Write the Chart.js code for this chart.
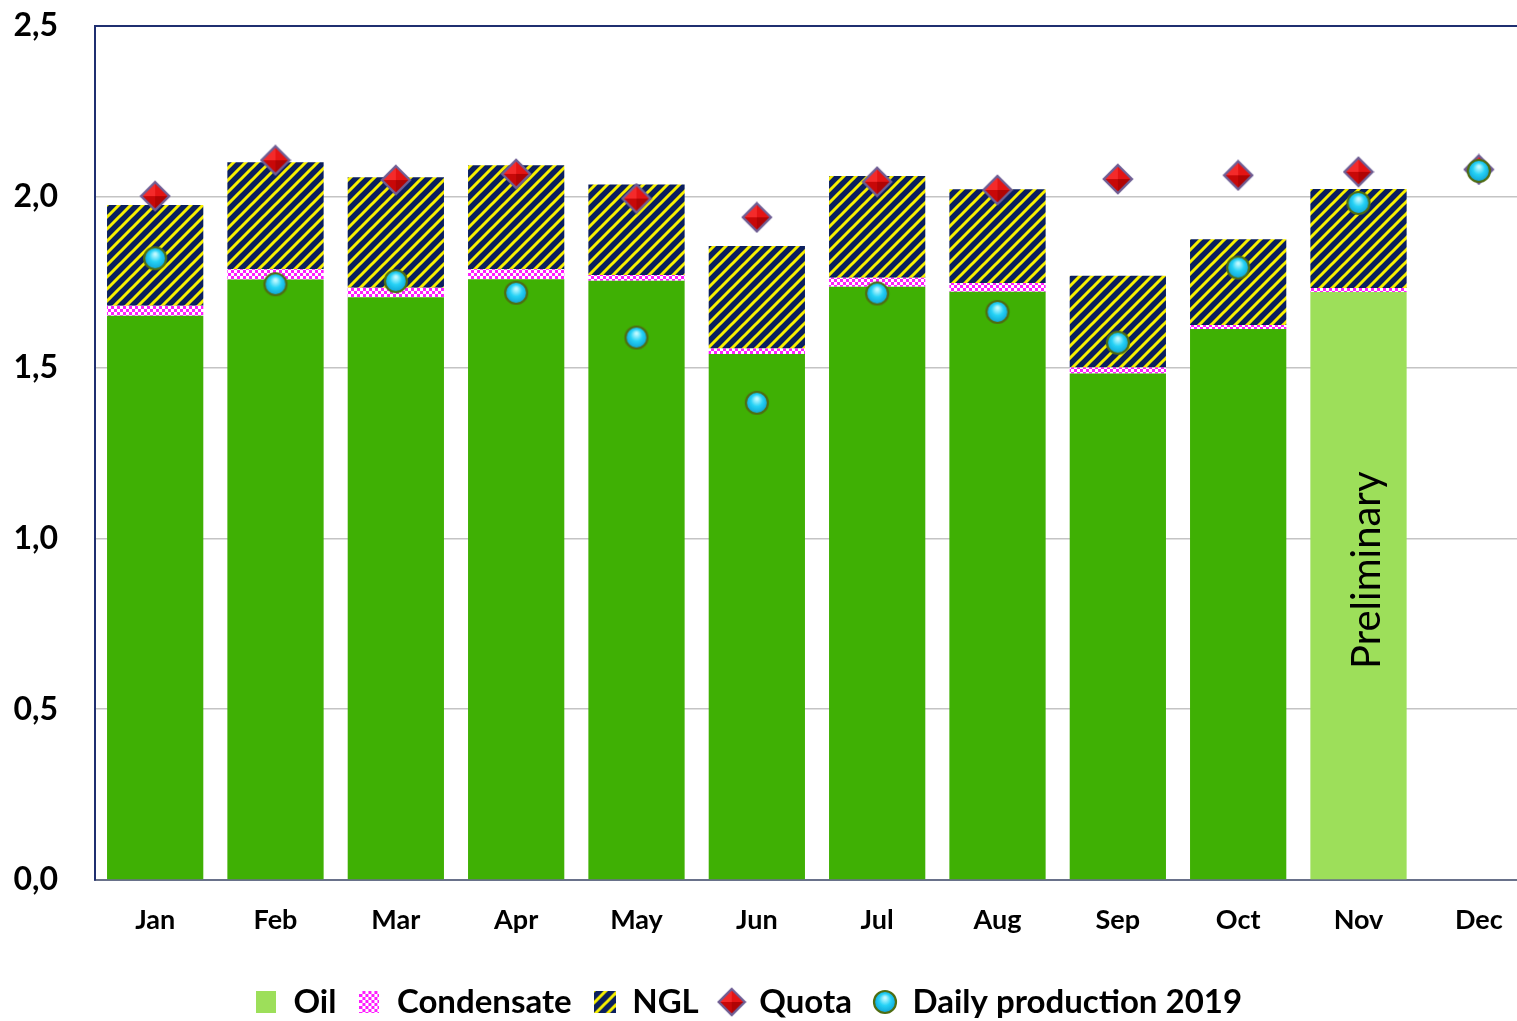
<!DOCTYPE html>
<html><head><meta charset="utf-8">
<script src="https://cdn.jsdelivr.net/npm/chart.js@4/dist/chart.umd.min.js"></script>
<style>
html,body{margin:0;padding:0;overflow:hidden;background:#fff;width:1517px;height:1021px}
#wrap{position:absolute;left:0;top:0;width:1541px;height:1021px}
</style>
</head><body><div id="wrap"><canvas id="c"></canvas></div>
<script>
// ---------------- data ----------------
const categories = ['Jan','Feb','Mar','Apr','May','Jun','Jul','Aug','Sep','Oct','Nov','Dec'];
const oil        = [1.652,1.758,1.706,1.759,1.754,1.540,1.737,1.722,1.483,1.613,1.721,null];
const condensate = [0.029,0.030,0.028,0.029,0.017,0.016,0.026,0.026,0.017,0.012,0.012,null];
const ngl        = [0.295,0.313,0.323,0.304,0.265,0.300,0.298,0.274,0.269,0.251,0.290,null];
const quota      = [2.002,2.107,2.049,2.067,1.995,1.940,2.044,2.020,2.052,2.063,2.073,2.080];
const daily      = [1.820,1.744,1.753,1.719,1.588,1.397,1.717,1.663,1.573,1.793,1.982,2.076];
const yTicks     = [0,0.5,1,1.5,2,2.5];
const seriesNames = ['Oil','Condensate','NGL','Quota','Daily production 2019'];
const preliminaryLabel = 'Preliminary';
const preliminaryIndex = 10;

// ---------------- styles ----------------
const OIL_GREEN = '#3fb004';
const OIL_LIGHT = '#9ddf5a';
const FONT = 'Lato';
const W_BOLD = 'bold';

function mk(w,h){const c=document.createElement('canvas');c.width=w;c.height=h;return c;}
function stripeTile(){
  const c=mk(12,12),g=c.getContext('2d');
  g.fillStyle='#0b1f5e';g.fillRect(0,0,12,12);
  g.strokeStyle='#f7f000';g.lineWidth=3.0;g.beginPath();
  for(let a=-12;a<=36;a+=12){g.moveTo(a-14,14);g.lineTo(a+2,-2);}
  g.stroke();return c;
}
function checkTile(){
  const c=mk(6,6),g=c.getContext('2d');
  g.fillStyle='#ff1cff';g.fillRect(0,0,6,6);
  g.fillStyle='#ffffff';g.fillRect(0,0,3,3);g.fillRect(3,3,3,3);
  return c;
}
const ctxMain=document.getElementById('c').getContext('2d');
const nglPattern=ctxMain.createPattern(stripeTile(),'repeat');
const condPattern=ctxMain.createPattern(checkTile(),'repeat');

function diamond(s){
  const pad=2,size=2*s+2*pad,c=mk(size,size),g=c.getContext('2d'),m=size/2;
  const T=[m,m-s],R=[m+s,m],B=[m,m+s],L=[m-s,m],C=[m,m];
  const tri=(p,q,col)=>{g.beginPath();g.moveTo(...p);g.lineTo(...q);g.lineTo(...C);g.closePath();g.fillStyle=col;g.fill();};
  tri(L,T,'#f42a2a');tri(T,R,'#e41414');tri(R,B,'#b00404');tri(B,L,'#c80808');
  g.beginPath();g.moveTo(...T);g.lineTo(...R);g.lineTo(...B);g.lineTo(...L);g.closePath();
  g.strokeStyle='#6f5e94';g.lineWidth=2.4;g.stroke();
  return c;
}
function ball(r){
  const pad=2,size=2*r+2*pad,c=mk(size,size),g=c.getContext('2d'),m=size/2;
  const gr=g.createRadialGradient(m,m-r*0.35,1,m,m,r);
  gr.addColorStop(0,'#bff9ff');gr.addColorStop(0.45,'#26d2f6');gr.addColorStop(1,'#0b9cd0');
  g.beginPath();g.arc(m,m,r-1,0,Math.PI*2);g.fillStyle=gr;g.fill();
  g.lineWidth=2.2;g.strokeStyle='#4f6d12';g.stroke();
  return c;
}
function swatch(w,h,fill){
  const c=mk(w,h),g=c.getContext('2d');
  g.fillStyle=typeof fill==='string'?fill:g.createPattern(fill,'repeat');g.fillRect(0,0,w,h);return c;
}
const quotaImg=diamond(14), dailyImg=ball(12);
const legendImgs=[swatch(20,22,OIL_LIGHT),swatch(20,22,checkTile()),swatch(22,22,stripeTile()),diamond(13),ball(12)];

const fmt=v=>v.toFixed(1).replace('.',',');

const layoutPlugin={
  id:'layoutFix',
  afterLayout(chart){
    const lg=chart.legend; if(!lg||!lg.lineWidths) return;
    const p=lg.options.labels.padding, fs=lg.options.labels.font.size;
    const dy=1002-(lg.top+p+fs/2);
    lg.top+=dy; lg.bottom+=dy;
    const W=lg.lineWidths[0];
    const start=748.5-(W-p)/2;
    lg.right=2*start-lg.left-p+W;
  },
  afterDatasetsDraw(chart){
    const {ctx,scales:{x,y}}=chart;
    ctx.save();
    ctx.translate(x.getPixelForValue(preliminaryIndex)+9, y.getPixelForValue(0.907));
    ctx.rotate(-Math.PI/2);
    ctx.font='400 40px '+FONT; ctx.fillStyle='#000'; ctx.textAlign='center'; ctx.textBaseline='middle';
    ctx.fillText(preliminaryLabel,0,0);
    ctx.restore();
  }
};

function build(){
  new Chart(ctxMain,{
    type:'bar',
    data:{
      labels:categories,
      datasets:[
        {label:seriesNames[0],data:oil,backgroundColor:categories.map((_,i)=>i===preliminaryIndex?OIL_LIGHT:OIL_GREEN),stack:'bars',order:2,barPercentage:0.8,categoryPercentage:1},
        {label:seriesNames[1],data:condensate,backgroundColor:condPattern,stack:'bars',order:2,barPercentage:0.8,categoryPercentage:1},
        {label:seriesNames[2],data:ngl,backgroundColor:nglPattern,stack:'bars',order:2,barPercentage:0.8,categoryPercentage:1},
        {label:seriesNames[3],type:'line',data:quota,showLine:false,stack:'q',order:1,pointStyle:quotaImg,pointRadius:14,pointHoverRadius:14},
        {label:seriesNames[4],type:'line',data:daily,showLine:false,stack:'d',order:0,pointStyle:dailyImg,pointRadius:12,pointHoverRadius:12}
      ]
    },
    options:{
      responsive:true,maintainAspectRatio:false,animation:false,
      layout:{autoPadding:false,padding:{top:26,left:0,right:2,bottom:0}},
      plugins:{
        tooltip:{enabled:false},
        legend:{
          position:'bottom',
          labels:{
            usePointStyle:true,boxWidth:22,boxHeight:22,padding:22,color:'#000',
            font:{family:FONT,size:33,weight:W_BOLD},
            generateLabels:()=>seriesNames.map((t,i)=>({text:t,pointStyle:legendImgs[i],fillStyle:'#fff',strokeStyle:'#fff',lineWidth:0,hidden:false,datasetIndex:i}))
          }
        }
      },
      scales:{
        x:{
          stacked:true,
          grid:{display:false,drawTicks:false},
          border:{display:true,color:'#69718a',width:2},
          ticks:{color:'#000',padding:24,font:{family:FONT,size:27,weight:W_BOLD}},
          afterFit:s=>{s.height=1021-880-(s.chart.legend?s.chart.legend.height:0);s.paddingLeft=0;s.paddingRight=0;}
        },
        y:{
          stacked:true,min:0,max:2.5,
          afterBuildTicks:s=>{s.ticks=yTicks.map(v=>({value:v}));},
          afterFit:s=>{s.width=95;s.paddingTop=10;s.paddingBottom=10;},
          grid:{drawTicks:false,color:c=>c.tick&&c.tick.value===2.5?'#1f2f70':'#c4c4c4',lineWidth:c=>c.tick&&c.tick.value===2.5?2:1.5},
          border:{display:true,color:'#1f2f70',width:2},
          ticks:{color:'#000',padding:37,font:{family:FONT,size:32,weight:W_BOLD},callback:v=>fmt(v)}
        }
      }
    },
    plugins:[layoutPlugin]
  });
}
Promise.all([document.fonts.load('bold 33px Lato'),document.fonts.load('400 40px Lato')]).then(build,build);
</script>
</body></html>
